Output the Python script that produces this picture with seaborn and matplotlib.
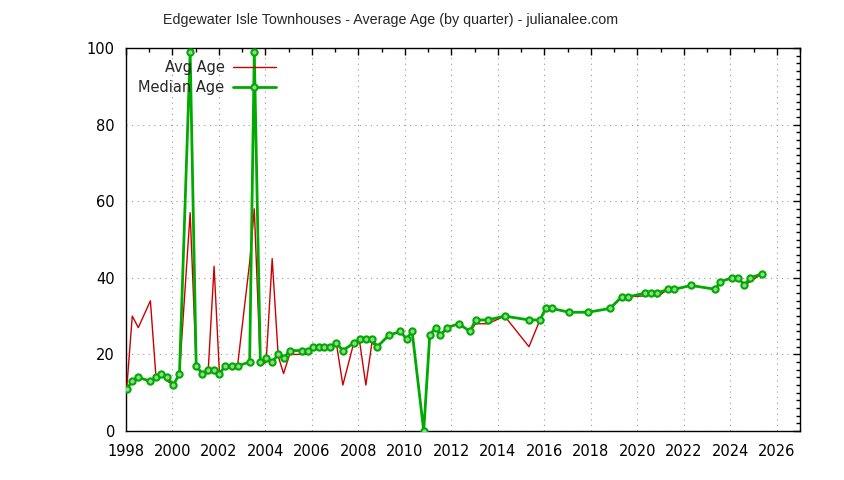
import matplotlib
matplotlib.use("Agg")
import matplotlib.pyplot as plt
from matplotlib.ticker import MultipleLocator
from matplotlib.lines import Line2D
import seaborn as sns

# quarter positions (decimal years)
quarters = [
    1998.03, 1998.27, 1998.53, 1999.05, 1999.29, 1999.52, 1999.78, 2000.04,
    2000.30, 2000.76, 2001.02, 2001.28, 2001.53, 2001.79, 2002.02, 2002.28,
    2002.54, 2002.80, 2003.32, 2003.52, 2003.78, 2004.03, 2004.29, 2004.55,
    2004.78, 2005.04, 2005.56, 2005.81, 2006.04, 2006.29, 2006.53, 2006.79,
    2007.05, 2007.33, 2007.80, 2008.06, 2008.32, 2008.58, 2008.81, 2009.31,
    2009.81, 2010.07, 2010.31, 2010.81, 2011.07, 2011.32, 2011.53, 2011.82,
    2012.32, 2012.80, 2013.04, 2013.57, 2014.29, 2015.34, 2015.81, 2016.06,
    2016.32, 2017.07, 2017.86, 2018.83, 2019.32, 2019.58, 2020.34, 2020.59,
    2020.84, 2021.33, 2021.59, 2022.31, 2023.36, 2023.57, 2024.08, 2024.35,
    2024.61, 2024.85, 2025.36,
]

avg_age = [
    11, 30, 27, 34, 14, 15, 13, 12,
    15, 57, 17, 15, 15, 43, 15, 17,
    16.5, 17, 44, 58, 17, 18, 45, 19.5,
    15, 20, 20, 20, 22, 22, 22, 21.5,
    23, 12, 23, 23, 12, 23, 22, 25,
    26, 24, 26, 0, 25, 27, 25, 27,
    28, 26, 28, 28, 30, 22, 29, 32,
    32, 31, 31, 32, 35, 35, 35.3, 36,
    35, 37, 37, 38, 37, 39, 40, 40,
    38, 39, 41,
]

median_age = [
    11, 13, 14, 13, 14, 15, 14, 12,
    15, 99, 17, 15, 16, 16, 15, 17,
    17, 17, 18, 99, 18, 19, 18, 20,
    19, 21, 21, 21, 22, 22, 22, 22,
    23, 21, 23, 24, 24, 24, 22, 25,
    26, 24, 26, 0, 25, 27, 25, 27,
    28, 26, 29, 29, 30, 29, 29, 32,
    32, 31, 31, 32, 35, 35, 36, 36,
    36, 37, 37, 38, 37, 39, 40, 40,
    38, 40, 41,
]

title = "Edgewater Isle Townhouses - Average Age (by quarter) - julianalee.com"

sns.set_style("white")
plt.rcParams['font.family'] = ['DejaVu Sans']

red = "#cc0000"
green = "#00aa00"

fig = plt.figure(figsize=(8.44, 4.8), dpi=100)
ax = fig.add_axes([126 / 844, 1 - 431 / 480, (800 - 126) / 844, (431 - 48) / 480])

sns.lineplot(x=quarters, y=avg_age, ax=ax, sort=False, estimator=None,
             color=red, linewidth=1.0, zorder=3)
sns.lineplot(x=quarters, y=median_age, ax=ax, sort=False, estimator=None,
             color=green, linewidth=2.0, marker="o", markersize=4.5,
             markerfacecolor="#8fd88f", markeredgecolor=green,
             markeredgewidth=1.5, zorder=4)

ax.set_xlim(1998, 2027)
ax.set_ylim(0, 100)
ax.xaxis.set_major_locator(MultipleLocator(2))
ax.xaxis.set_minor_locator(MultipleLocator(1))
ax.yaxis.set_major_locator(MultipleLocator(20))
ax.yaxis.set_minor_locator(MultipleLocator(2))
ax.tick_params(which="both", direction="in", top=True, right=True,
               colors="black", labelsize=10.5)
ax.tick_params(which="major", length=5, width=1)
ax.tick_params(which="minor", length=3, width=1)
ax.tick_params(axis="x", which="major", pad=9)
ax.tick_params(axis="y", which="major", pad=8)
ax.grid(True, which="major", linestyle=(0, (1, 4)), color="#999999", linewidth=0.8)
for s in ax.spines.values():
    s.set_color("black")
    s.set_linewidth(1.0)
ax.set_xlabel("")
ax.set_ylabel("")

handles = [
    Line2D([], [], color=red, linewidth=1.0),
    Line2D([], [], color=green, linewidth=2.0, marker="o", markersize=4.5,
           markerfacecolor="#8fd88f", markeredgecolor=green, markeredgewidth=1.5),
]
ax.legend(handles, ["Avg Age", "Median Age"], loc="upper left",
          bbox_to_anchor=(0.0, 1.0), frameon=False, markerfirst=False,
          numpoints=1, handlelength=2.9, fontsize=10.5, labelspacing=0.3,
          borderaxespad=0.45, handletextpad=0.6)

fig.text(391 / 844, 1 - 20 / 480, title, ha="center", va="center",
         fontsize=10.3, family=["Liberation Sans", "DejaVu Sans"])

fig.savefig("out.png", dpi=100, facecolor="white")
